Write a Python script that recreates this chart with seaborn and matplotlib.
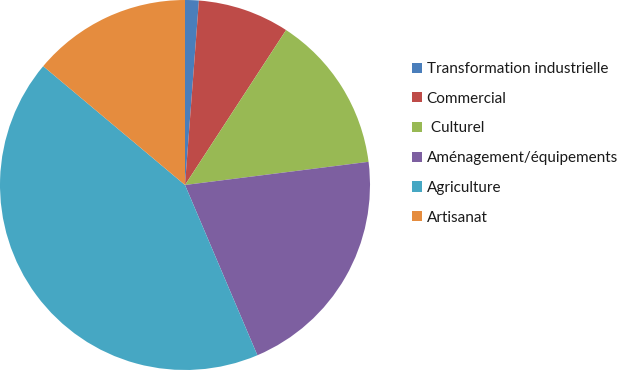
import matplotlib
matplotlib.use("Agg")
import matplotlib.pyplot as plt
import seaborn as sns

sns.set_theme(style="white")
plt.rcParams['font.family'] = ['Lato', 'DejaVu Sans']

categories = ["Transformation industrielle", "Commercial", " Culturel",
              "Aménagement/équipements", "Agriculture", "Artisanat"]
values = [1.2, 8.0, 13.8, 20.6, 42.5, 13.9]
colors = ["#4A7EBB", "#BE4B48", "#98B954", "#7D5FA0", "#46A7C3", "#E58C3E"]

fig = plt.figure(figsize=(6.21, 3.71), dpi=100)
ax = fig.add_axes([0, 1 / 371, 370 / 621, 370 / 371])
wedges, _ = ax.pie(values, colors=colors, startangle=90, counterclock=False,
                   wedgeprops=dict(linewidth=0), radius=1)
ax.set_xlim(-1, 1)
ax.set_ylim(-1, 1)
ax.set_aspect("equal")

leg = ax.legend(wedges, categories, loc="upper left",
                bbox_to_anchor=(412 / 621, 1 - 62 / 371),
                bbox_transform=fig.transFigure, frameon=False,
                fontsize=11, handlelength=0.65, handleheight=0.65,
                handletextpad=0.3, labelspacing=1.03, borderpad=0,
                borderaxespad=0)
for t in leg.get_texts():
    t.set_color("#1a1a1a")

fig.savefig("out.png", dpi=100)
